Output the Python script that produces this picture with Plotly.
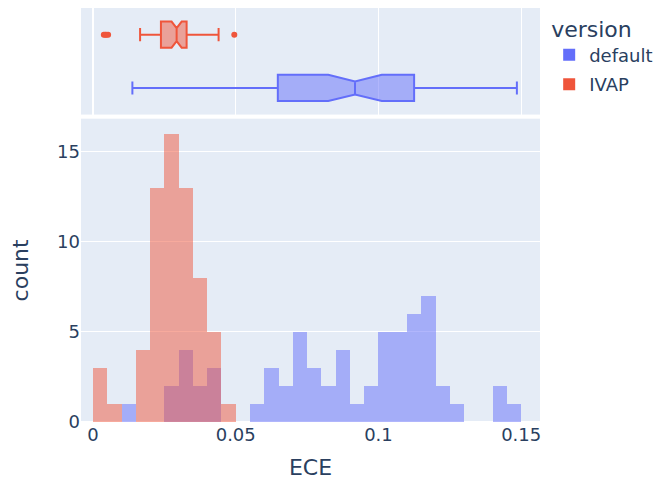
import pandas as pd
import plotly.express as px

ece_default = [
    0.0138,
    0.0265, 0.0285,
    0.0305, 0.0315, 0.0325, 0.0340,
    0.0365, 0.0385,
    0.0410, 0.0425, 0.0440,
    0.0575,
    0.0610, 0.0628, 0.0644,
    0.0651, 0.0680,
    0.0705, 0.0715, 0.0725, 0.0735, 0.0745,
    0.0760, 0.0775, 0.0790,
    0.0815, 0.0835,
    0.0855, 0.0865, 0.0880, 0.0895,
    0.0941,
    0.0960, 0.0980,
    0.1005, 0.1015, 0.1025, 0.1035, 0.1045,
    0.1055, 0.1065, 0.1075, 0.1085, 0.1095,
    0.1105, 0.1115, 0.1123, 0.1127, 0.1135, 0.1145,
    0.1152, 0.1160, 0.1168, 0.1175, 0.1182, 0.1189, 0.1196,
    0.1215, 0.1235,
    0.1270,
    0.1415, 0.1435,
    0.1485,
]
ece_ivap = [
    0.0038, 0.0043, 0.0047,
    0.0053,
    0.0165, 0.0175, 0.0185, 0.0195,
    0.0201, 0.0205, 0.0209, 0.0213, 0.0217, 0.0222, 0.0228, 0.0236,
    0.0240, 0.0243, 0.0245, 0.0247, 0.0249,
    0.0251, 0.0254, 0.0257, 0.0260, 0.0263, 0.0267, 0.0271, 0.0275,
    0.0280, 0.0285, 0.0291, 0.0295, 0.0296, 0.0297, 0.0298, 0.0299,
    0.0301, 0.0303, 0.0305, 0.0307, 0.0309, 0.0311, 0.0313, 0.0315,
    0.0318, 0.0322, 0.0326, 0.0330, 0.0340,
    0.0353, 0.0358, 0.0363, 0.0368, 0.0373, 0.0379, 0.0386, 0.0394,
    0.0405, 0.0415, 0.0425, 0.0433, 0.0440,
    0.0495,
]
versions = ["default", "IVAP"]
colors = ["#636efa", "#EF553B"]
bin_start, bin_end, bin_size = 0.0, 0.15, 0.005

df = pd.DataFrame({
    "ECE": ece_default + ece_ivap,
    "version": [versions[0]] * len(ece_default) + [versions[1]] * len(ece_ivap),
})

fig = px.histogram(df, x="ECE", color="version", marginal="box", barmode="overlay",
                   color_discrete_sequence=colors, opacity=0.5)
fig.update_traces(xbins=dict(start=bin_start, end=bin_end, size=bin_size),
                  selector=dict(type="histogram"))
fig.update_traces(notched=True, selector=dict(type="box"))

fig.update_layout(
    width=653, height=473,
    font=dict(family="DejaVu Sans", size=18, color="#2a3f5f"),
    margin=dict(l=73, r=121, t=0, b=59, autoexpand=False),
    legend=dict(title_text="version", tracegroupgap=3, y=1.0),
)
fig.update_xaxes(range=[-0.0042, 0.1566])
fig.update_xaxes(showgrid=False, row=1, col=1)
fig.update_yaxes(dtick=5, title_standoff=30, row=1, col=1)

fig.write_html("out.html")
